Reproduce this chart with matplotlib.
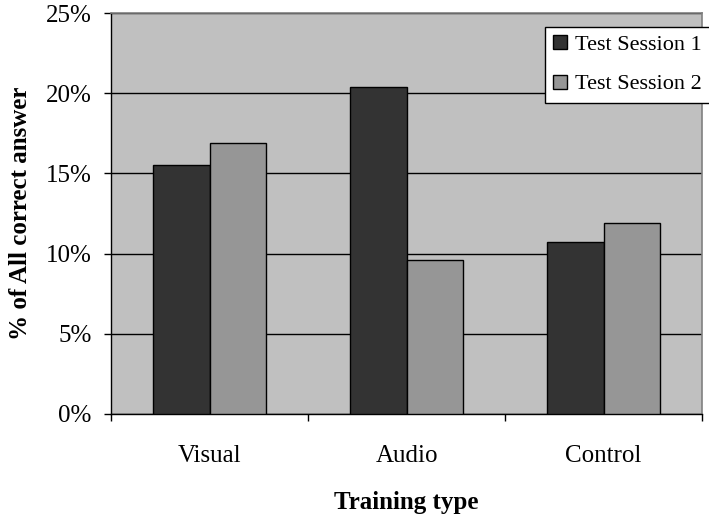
import matplotlib
matplotlib.use("Agg")
import matplotlib.pyplot as plt
import numpy as np
from matplotlib.ticker import FixedLocator, PercentFormatter

categories = ["Visual", "Audio", "Control"]
session1 = [15.5, 20.4, 10.7]
session2 = [16.9, 9.6, 11.9]
series_names = ["Test Session 1", "Test Session 2"]
y_ticks = [0, 5, 10, 15, 20, 25]

plt.rcParams["font.family"] = ["Liberation Serif", "DejaVu Serif"]

fig = plt.figure(figsize=(7.09, 5.20), dpi=100)
ax = fig.add_axes([111 / 709, 1 - 414 / 520, (702 - 111) / 709, (414 - 13) / 520])
ax.set_facecolor("#C0C0C0")

x = np.arange(len(categories)) + 0.5
w = 1 / 3.5
ax.bar(x - w / 2, session1, width=w, color="#333333", edgecolor="black",
       linewidth=1.0, label=series_names[0], zorder=3)
ax.bar(x + w / 2, session2, width=w, color="#969696", edgecolor="black",
       linewidth=1.0, label=series_names[1], zorder=3)

ax.set_xlim(0, len(categories))
ax.set_ylim(0, 25)

# gridlines
ax.yaxis.set_major_locator(FixedLocator(y_ticks))
ax.yaxis.set_major_formatter(PercentFormatter(decimals=0))
ax.grid(axis="y", color="black", linewidth=1.0, zorder=1)
ax.set_axisbelow(True)

# category labels centred, ticks on the group boundaries
ax.xaxis.set_major_locator(FixedLocator(np.arange(len(categories) + 1)))
ax.xaxis.set_major_formatter(plt.NullFormatter())
ax.xaxis.set_minor_locator(FixedLocator(x))
ax.set_xticklabels(categories, minor=True)
ax.tick_params(axis="x", which="major", direction="out", length=5, width=1, color="black")
ax.tick_params(axis="x", which="minor", length=0, pad=22.5, labelsize=18)
ax.tick_params(axis="y", direction="out", length=5, width=1, pad=9, labelsize=18)

for side in ("top", "right"):
    ax.spines[side].set_color("#808080")
    ax.spines[side].set_linewidth(1.2)
for side in ("left", "bottom"):
    ax.spines[side].set_color("black")
    ax.spines[side].set_linewidth(1.0)

ax.set_ylabel("% of All correct answer", fontsize=18, fontweight="bold", labelpad=10)
ax.set_xlabel("Training type", fontsize=18, fontweight="bold", labelpad=17)

leg = fig.legend(loc="upper left", bbox_to_anchor=(545 / 709, 1 - 27 / 520),
                 fontsize=16, frameon=True, fancybox=False, framealpha=1,
                 edgecolor="black", handlelength=0.59, handleheight=0.59,
                 handletextpad=0.4, labelspacing=0.87, borderpad=0.38,
                 borderaxespad=0)
leg.get_frame().set_linewidth(1.0)

fig.savefig("out.png", dpi=100)
